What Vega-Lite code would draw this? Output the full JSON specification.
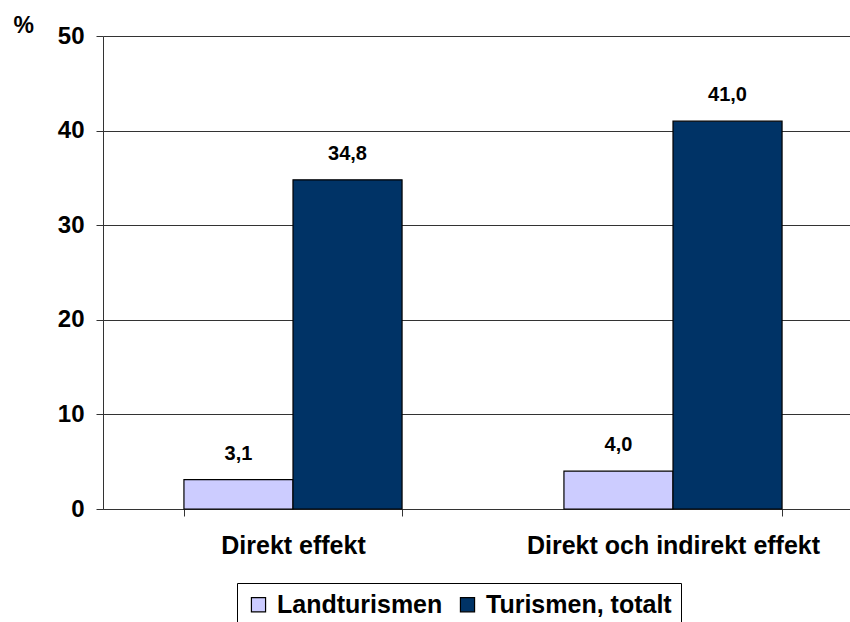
{
  "$schema": "https://vega.github.io/schema/vega-lite/v6.json",
  "autosize": "none",
  "width": 760,
  "height": 473,
  "padding": {"left": 103, "top": 36, "right": 0, "bottom": 113},
  "background": "white",
  "config": {
    "font": "Liberation Sans",
    "view": {"stroke": null},
    "locale": {"number": {"decimal": ",", "thousands": " ", "grouping": [3], "currency": ["", " kr"]}}
  },
  "data": {
    "values": [
      {"effekt": "Direkt effekt", "serie": "Landturismen", "varde": 3.1},
      {"effekt": "Direkt effekt", "serie": "Turismen, totalt", "varde": 34.8},
      {"effekt": "Direkt och indirekt effekt", "serie": "Landturismen", "varde": 4.0},
      {"effekt": "Direkt och indirekt effekt", "serie": "Turismen, totalt", "varde": 41.0}
    ]
  },
  "encoding": {
    "x": {
      "field": "effekt", "type": "nominal", "sort": null,
      "scale": {"paddingInner": 0.426, "paddingOuter": 0.213},
      "axis": {
        "title": null, "labelAngle": 0, "labelFontSize": 25, "labelFontWeight": "bold",
        "labelColor": "black", "labelPadding": 17, "labelLimit": 0, "tickBand": "extent", "tickSize": 7,
        "tickColor": "#333", "domainColor": "#333", "grid": false
      }
    },
    "xOffset": {"field": "serie", "type": "nominal", "sort": null, "scale": {"paddingInner": 0, "paddingOuter": 0}},
    "y": {
      "field": "varde", "type": "quantitative",
      "scale": {"domain": [0, 50], "nice": false},
      "axis": {
        "values": [0, 10, 20, 30, 40, 50], "title": "%", "titleAngle": 0, "titleX": -90, "titleY": -11,
        "titleBaseline": "middle",
        "titleFontSize": 23, "titleFontWeight": "bold", "titleColor": "black", "titleAlign": "left",
        "labelFontSize": 24, "labelFontWeight": "bold", "labelColor": "black", "labelPadding": 12,
        "tickSize": 7, "tickColor": "#333", "domainColor": "#333", "gridColor": "#333", "gridOpacity": 1,
        "format": "d"
      }
    }
  },
  "layer": [
    {
      "mark": {"type": "bar", "stroke": "black", "strokeWidth": 1.2},
      "encoding": {
        "color": {
          "field": "serie", "type": "nominal", "sort": null,
          "scale": {"domain": ["Landturismen", "Turismen, totalt"], "range": ["#CCCCFF", "#003366"]},
          "legend": {
            "title": null, "orient": "none", "direction": "horizontal", "legendX": 134, "legendY": 547,
            "symbolType": "square", "symbolSize": 200, "symbolStrokeColor": "black", "symbolStrokeWidth": 1.2,
            "labelFontSize": 25, "labelFontWeight": "bold", "labelColor": "black", "labelLimit": 0,
            "labelOffset": 6,
            "strokeColor": "black", "padding": 9, "columnPadding": 12, "symbolOffset": 0
          }
        }
      }
    },
    {
      "mark": {"type": "text", "baseline": "bottom", "dy": -16, "fontSize": 20, "fontWeight": "bold", "color": "black"},
      "encoding": {"text": {"field": "varde", "type": "quantitative", "format": ".1f"}}
    }
  ]
}
